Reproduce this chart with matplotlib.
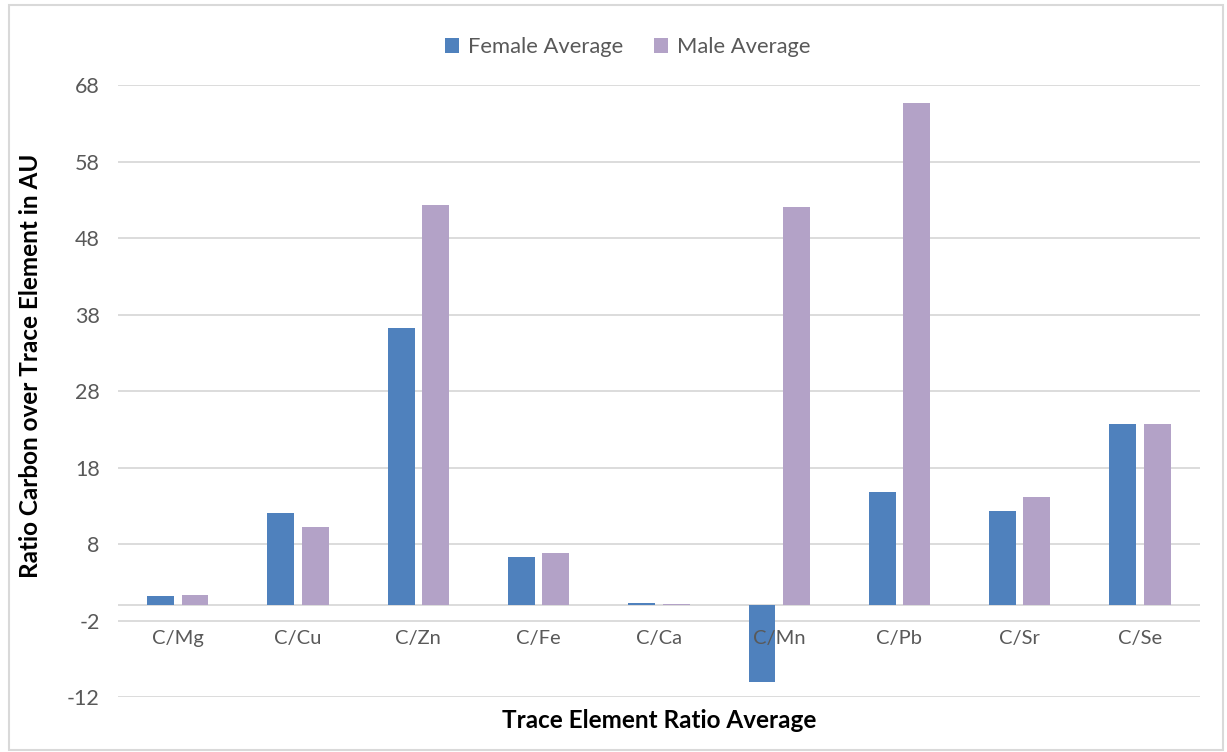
import matplotlib

matplotlib.use("Agg")
import matplotlib.pyplot as plt
import numpy as np
from matplotlib.patches import Rectangle

plt.rcParams["font.family"] = ["Lato", "DejaVu Sans"]
plt.rcParams["axes.unicode_minus"] = False

categories = ["C/Mg", "C/Cu", "C/Zn", "C/Fe", "C/Ca", "C/Mn", "C/Pb", "C/Sr", "C/Se"]
female_avg = [1.2, 12.0, 36.3, 6.3, 0.25, -10.0, 14.8, 12.3, 23.7]
male_avg = [1.3, 10.2, 52.3, 6.8, 0.2, 52.0, 65.6, 14.2, 23.7]
yticks = [-12, -2, 8, 18, 28, 38, 48, 58, 68]

FEMALE, MALE = "#4F81BD", "#B3A2C7"
GRID = "#D9D9D9"
TXT = "#595959"

fig = plt.figure(figsize=(12.27, 7.52), dpi=100)
ax = fig.add_axes([0.0959, 0.0731, 0.8822, 0.8138])

x = np.arange(len(categories))
w = 0.224
ax.bar(x - 0.143, female_avg, w, color=FEMALE, label="Female Average", zorder=3)
ax.bar(x + 0.143, male_avg, w, color=MALE, label="Male Average", zorder=3)

ax.set_xlim(-0.5, len(categories) - 0.5)
ax.set_ylim(-12, 68)
ax.set_yticks(yticks)
ax.yaxis.grid(True, color=GRID, linewidth=1.3, zorder=0)
ax.axhline(0, color=GRID, linewidth=1.3, zorder=2)
for s in ax.spines.values():
    s.set_visible(False)
ax.tick_params(axis="y", length=0, labelsize=15.5, labelcolor=TXT, pad=13)
ax.tick_params(axis="x", length=0, labelsize=14, labelcolor=TXT, pad=0)
ax.set_xticks(x)
ax.set_xticklabels([])
for xi, name in zip(x, categories):
    ax.text(xi, -4.3, name, ha="center", va="center", fontsize=14.5, color=TXT, zorder=4)

ax.set_xlabel("Trace Element Ratio Average", fontsize=17.5, weight="bold")
ax.xaxis.set_label_coords(0.5, -0.019)
ax.set_ylabel("Ratio Carbon over Trace Element in AU", fontsize=17.5, weight="bold")
ax.yaxis.set_label_coords(-0.070, 0.542)

ax.legend(loc="center", bbox_to_anchor=(0.471, 1.062), ncol=2, frameon=False,
          fontsize=15.8, handlelength=0.65, handleheight=0.65, handletextpad=0.4,
          columnspacing=1.4, labelcolor=TXT)

fig.patches.append(Rectangle((0.007, 0.003), 0.99, 0.99, transform=fig.transFigure,
                             fill=False, edgecolor=GRID, linewidth=1.5))

fig.savefig("out.png", dpi=100)
